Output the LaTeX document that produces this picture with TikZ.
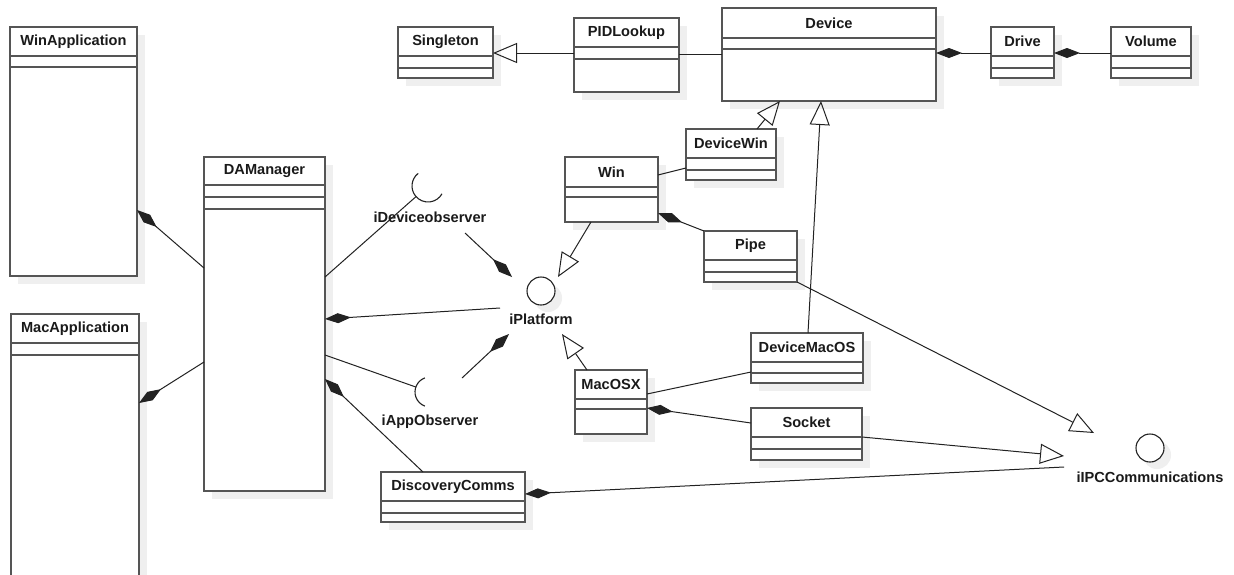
\documentclass[tikz,border=0pt]{standalone}
\usepackage{fontspec}
\setmainfont{Liberation Sans}
\usetikzlibrary{arrows.meta,calc}

\definecolor{boxline}{HTML}{555555}
\definecolor{shadowgray}{HTML}{EFEFEF}
\definecolor{linkink}{HTML}{222222}
\definecolor{titleink}{HTML}{1A1A1A}

\tikzset{
  clsbox/.style={draw=boxline, line width=1.2pt, fill=white, anchor=north west,
                 inner sep=0pt, outer sep=0pt},
  clsrule/.style={draw=boxline, line width=1.2pt},
  clsshadow/.style={fill=shadowgray},
  clstitle/.style={font=\fontsize{14.6}{16}\selectfont\bfseries, text=titleink, inner sep=0pt},
  iface/.style={circle, draw=linkink, line width=1.1pt, fill=white, minimum size=28pt,
                inner sep=0pt, outer sep=0pt},
  socketarc/.style={draw=linkink, line width=1.1pt},
  link/.style={draw=linkink, line width=1pt},
  comp/.style={link, -{Diamond[length=26pt, width=10pt]}},
  gen/.style={link, -{Triangle[open, length=24pt, width=20pt]}},
}

% UML class box: #1 name, #2 left, #3 top, #4 right, #5 bottom,
% #6 rule under the title, #7 further rules, #8 title
\newcommand\umlclass[8]{%
  \pgfmathsetmacro\clsw{#4-#2}%
  \pgfmathsetmacro\clsh{#5-#3}%
  \pgfmathsetmacro\clsty{(#3+#6)/2}%
  \fill[clsshadow] (#2+8,#3+8) rectangle (#4+8,#5+8);
  \node[clsbox, minimum width=\clsw pt, minimum height=\clsh pt] (#1) at (#2,#3) {};
  \foreach \ry in {#6,#7} {\draw[clsrule] (#1.west |- 0,\ry) -- (#1.east |- 0,\ry);}
  \node[clstitle] (#1-title) at (#1.north |- 0,\clsty) {#8};
}

\begin{document}
\begin{tikzpicture}[x=1pt, y=-1pt]
  \useasboundingbox (0,0) rectangle (1234,574);
  \fill[white] (0,0) rectangle (1234,574);

  % classes
  \umlclass{winapp}{10}{27}{137}{276}{56}{67}{WinApplication}
  \umlclass{macapp}{11}{314}{139}{590}{343}{355}{MacApplication}
  \umlclass{dam}{204}{157}{325}{491}{185}{197,209}{DAManager}
  \umlclass{singleton}{398}{27}{493}{78}{56}{68}{Singleton}
  \umlclass{pid}{574}{18}{679}{92}{47}{59}{PIDLookup}
  \umlclass{device}{722}{8}{936}{101}{38}{49}{Device}
  \umlclass{drive}{991}{27}{1054}{78}{56}{68}{Drive}
  \umlclass{volume}{1111}{27}{1191}{78}{56}{68}{Volume}
  \umlclass{devwin}{686}{129}{776}{180}{158}{170}{DeviceWin}
  \umlclass{win}{565}{157}{658}{222}{187}{197}{Win}
  \umlclass{pipe}{704}{231}{797}{282}{260}{272}{Pipe}
  \umlclass{devmac}{751}{333}{863}{383}{362}{373}{DeviceMacOS}
  \umlclass{macosx}{575}{370}{647}{434}{399}{409}{MacOSX}
  \umlclass{socket}{751}{408}{862}{460}{437}{449}{Socket}
  \umlclass{disc}{381}{472}{525}{522}{501}{513}{DiscoveryComms}

  % provided interfaces (lollipops)
  \fill[clsshadow] (548,298) circle[radius=14pt];
  \node[iface] (iplat) at (541,291) {};
  \fill[clsshadow] (1157,455) circle[radius=14pt];
  \node[iface] (ipc) at (1150,448) {};

  % required interfaces (sockets)
  \coordinate (ido) at (428,186);
  \draw[socketarc] (ido) ++(-128:16) arc[start angle=-128, end angle=-331, radius=16];
  \coordinate (ido-end) at ($(ido)+(138.5:16)$);
  \coordinate (iao) at (430,392);
  \draw[socketarc] (iao) ++(-110:15) arc[start angle=-110, end angle=-250, radius=15];
  \coordinate (iao-end) at ($(iao)+(-160.6:15)$);

  % interface labels
  \node[clstitle] (ido-label) at (430,217) {iDeviceobserver};
  \node[clstitle] (iao-label) at (430,422) {iAppObserver};
  \node[clstitle] (iplat-label) at (541,319) {iPlatform};
  \node[clstitle] (ipc-label) at (1150,477) {iIPCCommunications};

  % free connector ends around the interfaces
  \coordinate (ido-tail) at (465,233);
  \coordinate (iplat-nw) at (512,277);
  \coordinate (iplat-w) at (500,308);
  \coordinate (iao-tail) at (462,378);
  \coordinate (iplat-sw) at (509,334);
  \coordinate (iplat-ne) at (558,277);
  \coordinate (iplat-se) at (562,334);
  \coordinate (ipc-nw) at (1094,433);
  \coordinate (ipc-w) at (1064,456);
  \coordinate (ipc-sw) at (1064,467);

  % compositions
  \draw[comp] (dam.west |- 0,268) -- (winapp.east |- 0,210);
  \draw[comp] (dam.west |- 0,362) -- (macapp.east |- 0,403);
  \draw[comp] (ido-tail) -- (iplat-nw);
  \draw[comp] (iplat-w) -- (dam.east |- 0,319);
  \draw[comp] (iao-tail) -- (iplat-sw);
  \draw[comp] (disc.north -| 423,0) -- (dam.east |- 0,379);
  \draw[comp] (drive.west |- 0,53) -- (device.east |- 0,53);
  \draw[comp] (volume.west |- 0,53) -- (drive.east |- 0,53);
  \draw[comp] (pipe.north west) -- (win.east |- 0,213);
  \draw[comp] (socket.west |- 0,423) -- (macosx.east |- 0,408);
  \draw[comp] (ipc-sw) -- (disc.east |- 0,494);

  % generalizations / realizations
  \draw[gen] (pid.west |- 0,53) -- (singleton.east |- 0,53);
  \draw[gen] (devwin.north -| 757,0) -- (device.south -| 780,0);
  \draw[gen] (devmac.north -| 808,0) -- (device.south -| 821,0);
  \draw[gen] (win.south -| 591,0) -- (iplat-ne);
  \draw[gen] (macosx.north -| 587,0) -- (iplat-se);
  \draw[gen] (pipe.south east) -- (ipc-nw);
  \draw[gen] (socket.east |- 0,437) -- (ipc-w);

  % associations
  \draw[link] (pid.east |- 0,54) -- (device.west |- 0,54);
  \draw[link] (win.east |- 0,175) -- (devwin.west |- 0,168);
  \draw[link] (macosx.east |- 0,394) -- (devmac.west |- 0,372);
  \draw[link] (dam.east |- 0,277) -- (ido-end);
  \draw[link] (dam.east |- 0,355) -- (iao-end);
\end{tikzpicture}
\end{document}
